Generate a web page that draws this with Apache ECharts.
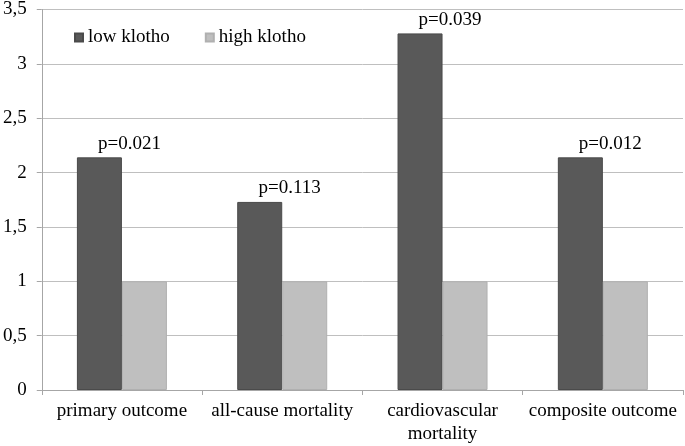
<!DOCTYPE html>
<html><head><meta charset="utf-8">
<script src="https://cdn.jsdelivr.net/npm/echarts@6/dist/echarts.min.js"></script>
<style>html,body{margin:0;padding:0;background:#fff}#c{width:685px;height:446px}</style>
</head><body><div id="c"></div>
<script>
const categories = ['primary outcome', 'all-cause mortality', 'cardiovascular\nmortality', 'composite outcome'];
const lowKlotho = [2.14, 1.73, 3.28, 2.14];
const highKlotho = [1, 1, 1, 1];
const pLabels = ['p=0.021', 'p=0.113', 'p=0.039', 'p=0.012'];
const seriesNames = ['low klotho', 'high klotho'];

const font = '"Liberation Serif", "Times New Roman", serif';
const fs = 19;
const chart = echarts.init(document.getElementById('c'));
chart.setOption({
  animation: false,
  textStyle: { fontFamily: font },
  grid: { left: 41, right: 2, top: 8, bottom: 56, containLabel: false },
  legend: {
    left: 69, top: 23, itemWidth: 8, itemHeight: 8, itemGap: 35, icon: 'rect',
    textStyle: { fontFamily: font, fontSize: fs, color: '#000' },
    data: seriesNames
  },
  xAxis: {
    type: 'category', data: categories,
    axisLine: { lineStyle: { color: '#a6a6a6' } },
    axisTick: { show: true, interval: 0, length: 5, lineStyle: { color: '#a6a6a6' } },
    axisLabel: { interval: 0, color: '#000', fontSize: fs, fontFamily: font, margin: 10, lineHeight: 23 }
  },
  yAxis: {
    type: 'value', min: 0, max: 3.5, interval: 0.5,
    axisLine: { show: true, lineStyle: { color: '#a6a6a6' } },
    axisTick: { show: true, length: 5, lineStyle: { color: '#a6a6a6' } },
    splitLine: { lineStyle: { color: '#bfbfbf' } },
    axisLabel: { color: '#000', fontSize: fs, fontFamily: font, margin: 15,
      formatter: v => String(v).replace('.', ',') }
  },
  series: [
    { name: seriesNames[0], type: 'bar', data: lowKlotho, barWidth: 45, barGap: '0%',
      itemStyle: { color: '#595959', borderColor: '#4a4a4a', borderWidth: 1 },
      label: { show: true, position: 'top', distance: 4, offset: [30, 0], color: '#000',
        fontSize: fs, fontFamily: font, formatter: p => pLabels[p.dataIndex] } },
    { name: seriesNames[1], type: 'bar', data: highKlotho, barWidth: 45,
      itemStyle: { color: '#bfbfbf', borderColor: '#b0b0b0', borderWidth: 1 } }
  ]
});
</script></body></html>
